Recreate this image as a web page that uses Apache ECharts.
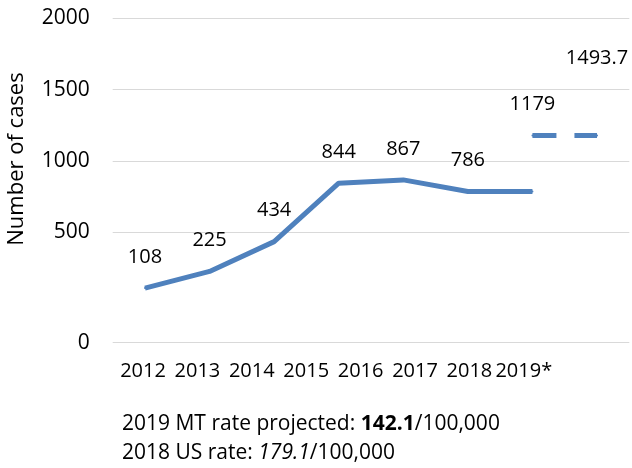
<!DOCTYPE html>
<html>
<head>
<meta charset="utf-8">
<script src="https://cdn.jsdelivr.net/npm/echarts@6/dist/echarts.min.js"></script>
<style>html,body{margin:0;padding:0;background:#fff}#c{width:632px;height:468px}</style>
</head>
<body>
<div id="c"></div>
<script>
// ---- data ----
const yearLabels = ['2012', '2013', '2014', '2015', '2016', '2017', '2018', '2019*'];
const slotKeys = ['p1', 'p2', 'p3', 'p4', 'p5', 'p6', 'p7', 'p8'];
const casesSeries = [108, 225, 434, 844, 867, 786, 786, null];
const casesLabels = ['108', '225', '434', '844', '867', '786', '', ''];
const projectedSeries = [null, null, null, null, null, null, 1179, 1179];
const projectedLabels = ['', '', '', '', '', '', '1179', '1493.7'];
const yTickValues = [-275, 500, 1000, 1500, 2000];
const yTickLabels = ['0', '500', '1000', '1500', '2000'];
const yMin = -275, yMax = 2000;

const FONT = 'Open Sans';
const TXT = '#000000';
const BLUE = '#4F81BD';

const chart = echarts.init(document.getElementById('c'), null, {renderer: 'canvas'});

const projData = projectedSeries.map((v, i) => {
  const item = {value: v};
  if (i === 7) item.label = {offset: [0, -46]};
  return item;
});

const lblStyle = {show: true, position: 'top', distance: 20, color: TXT, fontFamily: FONT, fontSize: 20};

chart.setOption({
  animation: false,
  backgroundColor: '#fff',
  grid: [
    {left: 112.7, right: 2.7, top: 18.4, bottom: 125.3},
    {left: 115.8, width: 435.2, top: 18.4, bottom: 125.3}
  ],
  xAxis: [
    {type: 'category', gridIndex: 0, data: slotKeys, boundaryGap: true,
     axisLine: {show: false}, axisTick: {show: false}, axisLabel: {show: false}, splitLine: {show: false}},
    {type: 'category', gridIndex: 1, data: yearLabels, boundaryGap: true,
     axisLine: {show: false}, axisTick: {show: false}, splitLine: {show: false},
     axisLabel: {show: true, interval: 0, margin: 19, color: TXT, fontFamily: FONT, fontSize: 20}}
  ],
  yAxis: [
    {type: 'value', gridIndex: 0, min: yMin, max: yMax,
     axisLine: {show: false},
     axisTick: {show: false, customValues: yTickValues},
     axisLabel: {customValues: yTickValues, margin: 23, color: TXT, fontFamily: FONT, fontSize: 21,
                 formatter: v => yTickLabels[yTickValues.indexOf(v)] ?? ''},
     splitLine: {show: true, lineStyle: {color: '#d9d9d9', width: 1}}},
    {type: 'value', gridIndex: 1, min: yMin, max: yMax, show: false, splitLine: {show: false}}
  ],
  series: [
    {type: 'line', xAxisIndex: 0, yAxisIndex: 0, data: casesSeries,
     showSymbol: true, symbol: 'circle', symbolSize: 2, itemStyle: {color: BLUE},
     lineStyle: {color: BLUE, width: 5, cap: 'butt', join: 'round'},
     label: Object.assign({}, lblStyle, {formatter: p => casesLabels[p.dataIndex]})},
    {type: 'line', xAxisIndex: 0, yAxisIndex: 0, data: projData,
     showSymbol: true, symbol: 'circle', symbolSize: 2, itemStyle: {color: BLUE},
     lineStyle: {color: BLUE, width: 5, type: [24, 18], cap: 'butt'},
     label: Object.assign({}, lblStyle, {formatter: p => projectedLabels[p.dataIndex]})}
  ],
  graphic: [
    {type: 'text', x: 17, y: 159, rotation: Math.PI / 2,
     style: {text: 'Number of cases', fill: TXT, font: '22px "Open Sans"', align: 'center', verticalAlign: 'middle',
             x: 0, y: 0}},
    {type: 'text', x: 122, y: 424,
     style: {text: '2019 MT rate projected: {b|142.1}/100,000', fill: TXT, font: '21px "Open Sans"', verticalAlign: 'middle',
             rich: {b: {fontWeight: 'bold', fontFamily: FONT, fontSize: 21, fill: TXT}}}},
    {type: 'text', x: 122, y: 453,
     style: {text: '2018 US rate: {i|179.1}/100,000', fill: TXT, font: '21px "Open Sans"', verticalAlign: 'middle',
             rich: {i: {fontStyle: 'italic', fontFamily: FONT, fontSize: 21, fill: TXT}}}}
  ]
});
</script>
</body>
</html>
